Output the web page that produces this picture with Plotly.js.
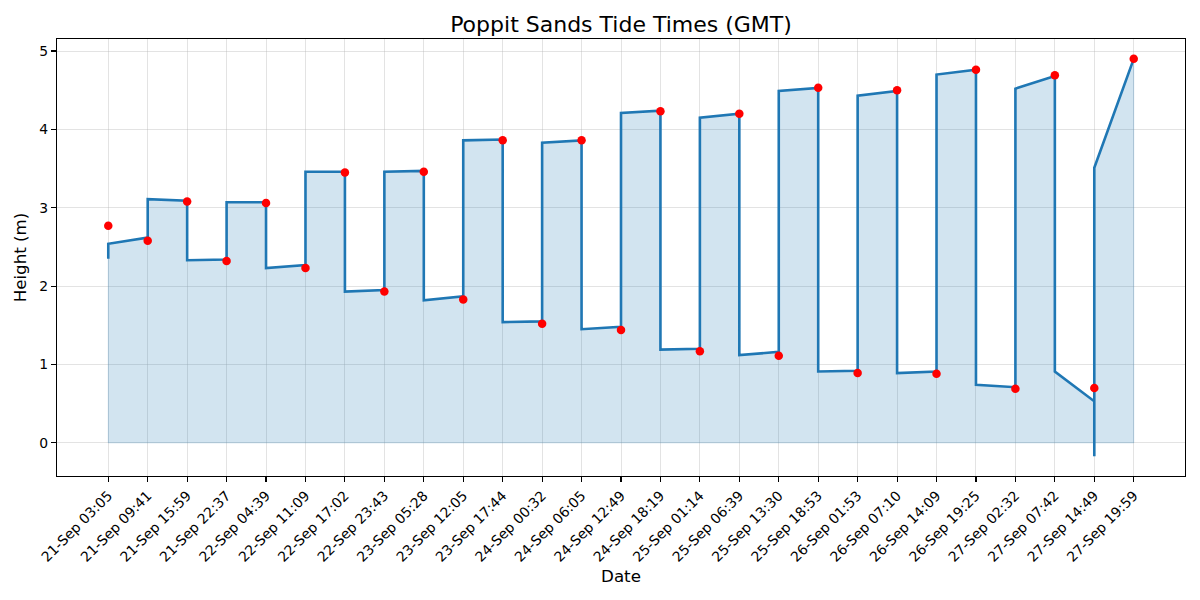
<!DOCTYPE html>
<html>
<head>
<meta charset="utf-8">
<script src="https://cdn.plot.ly/plotly-3.0.1.min.js"></script>
<style>html,body{margin:0;padding:0;background:#fff;}#chart{width:1200px;height:600px;}</style>
</head>
<body>
<div id="chart"></div>
<script>
// Tide times (categories) and high/low water heights (m)
const tideTimes = [
  "21-Sep 03:05","21-Sep 09:41","21-Sep 15:59","21-Sep 22:37","22-Sep 04:39",
  "22-Sep 11:09","22-Sep 17:02","22-Sep 23:43","23-Sep 05:28","23-Sep 12:05",
  "23-Sep 17:44","24-Sep 00:32","24-Sep 06:05","24-Sep 12:49","24-Sep 18:19",
  "25-Sep 01:14","25-Sep 06:39","25-Sep 13:30","25-Sep 18:53","26-Sep 01:53",
  "26-Sep 07:10","26-Sep 14:09","26-Sep 19:25","27-Sep 02:32","27-Sep 07:42",
  "27-Sep 14:49","27-Sep 19:59"
];
const tideHeights = [
  2.77, 2.58, 3.08, 2.32, 3.06, 2.23, 3.45, 1.93, 3.46, 1.83,
  3.86, 1.52, 3.86, 1.44, 4.23, 1.17, 4.20, 1.11, 4.53, 0.89,
  4.50, 0.88, 4.76, 0.69, 4.69, 0.70, 4.90
];

// Smoothed curve: heights read per category (several values may share one category)
const curveHeightsByTide = [
  [2.35, 2.54],
  [2.62, 3.11],
  [3.09, 2.33],
  [2.34, 3.07],
  [3.07, 2.23],
  [2.27, 3.46],
  [3.46, 1.93],
  [1.95, 3.46],
  [3.47, 1.82],
  [1.87, 3.86],
  [3.87, 1.54],
  [1.55, 3.83],
  [3.86, 1.45],
  [1.48, 4.21],
  [4.24, 1.19],
  [1.20, 4.15],
  [4.20, 1.12],
  [1.16, 4.49],
  [4.53, 0.91],
  [0.92, 4.43],
  [4.49, 0.89],
  [0.91, 4.70],
  [4.76, 0.74],
  [0.71, 4.52],
  [4.68, 0.91],
  [0.53, -0.17, 3.51],
  [4.90]
];

const curveX = [], curveY = [];
curveHeightsByTide.forEach((hs, i) => {
  hs.forEach(h => { curveX.push(tideTimes[i]); curveY.push(h); });
});

const fillX = [tideTimes[0]].concat(curveX, [tideTimes[tideTimes.length - 1], tideTimes[0]]);
const fillY = [0].concat(curveY, [0, 0]);

const FONT = "DejaVu Sans, Liberation Sans, sans-serif";
const blue = "#1f77b4";

const traces = [
  {
    x: fillX, y: fillY, type: "scatter", mode: "lines",
    fill: "toself", fillcolor: "rgba(31,119,180,0.2)",
    line: {color: "rgba(31,119,180,0.2)", width: 1},
    hoverinfo: "skip", showlegend: false
  },
  {
    x: curveX, y: curveY, type: "scatter", mode: "lines",
    line: {color: blue, width: 2.6},
    showlegend: false
  },
  {
    x: tideTimes, y: tideHeights, type: "scatter", mode: "markers",
    marker: {color: "#ff0000", size: 8.5},
    showlegend: false
  }
];

const allY = curveY.concat(tideHeights);
const yMin = Math.min.apply(null, allY), yMax = Math.max.apply(null, allY);
const yPad = (yMax - yMin) * 0.05;
const nCat = tideTimes.length;
const xPad = (nCat - 1) * 0.05;

const layout = {
  width: 1200, height: 600,
  margin: {l: 57, r: 15, t: 39, b: 124},
  paper_bgcolor: "#ffffff", plot_bgcolor: "#ffffff",
  font: {family: FONT, color: "#000000", size: 13.9},
  title: {
    text: "Poppit Sands Tide Times (GMT)",
    font: {family: FONT, size: 22, color: "#000000"},
    x: 0.5, xref: "paper", xanchor: "center",
    y: 1 - 24 / 600, yref: "container", yanchor: "middle"
  },
  xaxis: {
    type: "category",
    categoryorder: "array", categoryarray: tideTimes,
    range: [-xPad, nCat - 1 + xPad],
    tickmode: "array", tickvals: tideTimes, ticktext: tideTimes,
    tickangle: -45,
    ticks: "outside", ticklen: 5, tickwidth: 1.1, tickcolor: "#000",
    showline: true, mirror: true, linecolor: "#000", linewidth: 1.1,
    showgrid: true, gridcolor: "rgba(176,176,176,0.35)", gridwidth: 1,
    zeroline: false,
    tickfont: {family: FONT, size: 13.9, color: "#000"},
    title: {text: "Date", font: {family: FONT, size: 16.7, color: "#000"}, standoff: 6},
    automargin: false
  },
  yaxis: {
    range: [yMin - yPad, yMax + yPad],
    tickmode: "linear", tick0: 0, dtick: 1,
    ticks: "outside", ticklen: 5, tickwidth: 1.1, tickcolor: "#000",
    showline: true, mirror: true, linecolor: "#000", linewidth: 1.1,
    showgrid: true, gridcolor: "rgba(176,176,176,0.35)", gridwidth: 1,
    zeroline: false,
    tickfont: {family: FONT, size: 13.9, color: "#000"},
    title: {text: "Height (m)", font: {family: FONT, size: 16.7, color: "#000"}, standoff: 8},
    automargin: false
  },
  showlegend: false
};

Plotly.newPlot("chart", traces, layout, {staticPlot: true, displayModeBar: false});
</script>
</body>
</html>
